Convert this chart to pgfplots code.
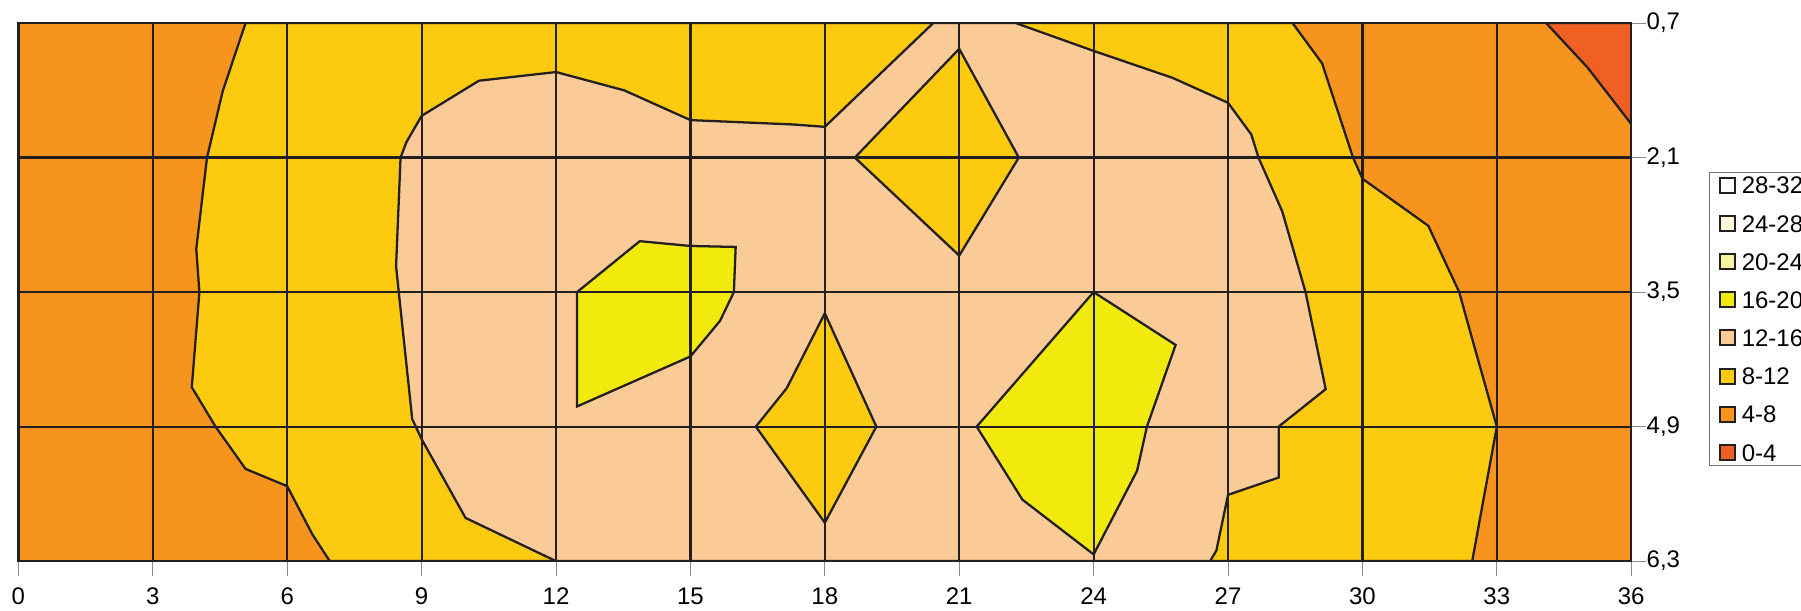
\documentclass[border=0pt]{standalone}
\usepackage{fontspec}
\setmainfont{Liberation Sans}
\usepackage{pgfplots}
\pgfplotsset{compat=1.18}

\definecolor{c04}{RGB}{241,96,35}
\definecolor{c48}{RGB}{247,148,30}
\definecolor{c812}{RGB}{252,202,14}
\definecolor{c1216}{RGB}{251,203,151}
\definecolor{c1620}{RGB}{242,234,13}
\definecolor{c2024}{RGB}{248,245,160}
\definecolor{c2428}{RGB}{253,250,215}
\definecolor{c2832}{RGB}{255,255,255}
\definecolor{edge}{RGB}{35,31,32}

\begin{document}
\begin{tikzpicture}
\useasboundingbox (0,0) rectangle (750.4pt,254.2pt);
\begin{axis}[
  at={(7.67pt,20.4pt)}, anchor=south west,
  scale only axis,
  width=672pt, height=224.2pt,
  xmin=0, xmax=36,
  ymin=0.7, ymax=6.3,
  y dir=reverse,
  xtick={0,3,...,36},
  ytick={0.7,2.1,3.5,4.9,6.3},
  yticklabels={{0,7},{2,1},{3,5},{4,9},{6,3}},
  xtick pos=bottom, ytick pos=right,
  yticklabel pos=right,
  tick align=outside,
  major tick length=6.25pt,
  tick style={black!45, line width=0.4pt},
  grid=major,
  major grid style={edge, line width=0.9pt},
  axis line style={edge, line width=0.95pt},
  axis on top,
  no markers,
  /pgf/number format/assume math mode=true,
  tick label style={font=\fontsize{10}{12}\selectfont},
  xticklabel style={inner sep=0pt, yshift=-4.75pt},
  yticklabel style={inner sep=0pt},
  legend image code/.code={\draw[#1, draw=edge, line width=0.85pt] (0pt,-3.125pt) rectangle (6.25pt,3.125pt);},
  legend style={
    at={(axis description cs:1,1)}, anchor=north west,
    xshift=32.5pt, yshift=-62pt,
    draw=black!55, line width=0.4pt,
    inner xsep=3.75pt, inner ysep=1.8pt,
    row sep=8.7pt, column sep=2.5pt,
    font=\fontsize{10}{12}\selectfont,
    nodes={inner sep=0pt, text height=7.2pt, text depth=0pt},
    cells={anchor=west}
  }
]
\addlegendimage{fill=c2832}\addlegendentry{28-32}
\addlegendimage{fill=c2428}\addlegendentry{24-28}
\addlegendimage{fill=c2024}\addlegendentry{20-24}
\addlegendimage{fill=c1620}\addlegendentry{16-20}
\addlegendimage{fill=c1216}\addlegendentry{12-16}
\addlegendimage{fill=c812}\addlegendentry{8-12}
\addlegendimage{fill=c48}\addlegendentry{4-8}
\addlegendimage{fill=c04}\addlegendentry{0-4}

% 4-8 background
\addplot[fill=c48, draw=none, forget plot] coordinates {(0,0.7) (36,0.7) (36,6.3) (0,6.3)} -- cycle;
% 8-12 band
\addplot[fill=c812, draw=edge, line width=0.95pt, forget plot] coordinates {
  (5.07,0.7) (4.56,1.41) (4.21,2.1) (3.97,3.05) (4.04,3.5) (3.87,4.49) (4.40,4.9)
  (5.07,5.34) (6.0,5.52) (6.56,6.02) (6.95,6.3)
  (32.45,6.3) (33,4.9) (32.35,3.82) (32.16,3.5) (31.47,2.81) (30,2.32)
  (29.79,2.1) (29.1,1.12) (28.44,0.7)} -- cycle;
% 0-4 corner
\addplot[fill=c04, draw=edge, line width=0.95pt, forget plot] coordinates {
  (34.10,0.7) (35.02,1.16) (36,1.75) (36,0.7)} -- cycle;
% 12-16 region
\addplot[fill=c1216, draw=edge, line width=0.95pt, forget plot] coordinates {
  (12,6.3) (9.98,5.85) (9.0,5.03) (8.79,4.82) (8.49,3.5) (8.43,3.23) (8.53,2.1)
  (8.66,1.94) (9.0,1.666) (10.28,1.30) (12,1.21) (13.52,1.40) (15,1.71)
  (17.27,1.755) (18,1.78) (20.42,0.7) (22.26,0.7) (24,0.99) (25.76,1.27)
  (27,1.53) (27.52,1.86) (27.68,2.1) (28.21,2.66) (28.73,3.5) (29.18,4.51)
  (28.13,4.9) (28.13,5.43) (27,5.61) (26.74,6.19) (26.6,6.3)} -- cycle;
% 8-12 islands
\addplot[fill=c812, draw=edge, line width=0.95pt, forget plot] coordinates {
  (21,0.968) (22.33,2.1) (21,3.12) (18.67,2.1)} -- cycle;
\addplot[fill=c812, draw=edge, line width=0.95pt, forget plot] coordinates {
  (18,3.72) (19.15,4.9) (18,5.90) (16.46,4.9) (17.15,4.50)} -- cycle;
% 16-20 islands
\addplot[fill=c1620, draw=edge, line width=0.95pt, forget plot] coordinates {
  (12.47,3.5) (13.87,2.97) (15,3.02) (16.01,3.03) (15.97,3.5) (15.66,3.80)
  (15,4.17) (12.47,4.69)} -- cycle;
\addplot[fill=c1620, draw=edge, line width=0.95pt, forget plot] coordinates {
  (24,3.5) (25.83,4.05) (25.19,4.9) (24.97,5.36) (24,6.23) (22.41,5.66)
  (21.39,4.9)} -- cycle;
\end{axis}
\end{tikzpicture}
\end{document}
